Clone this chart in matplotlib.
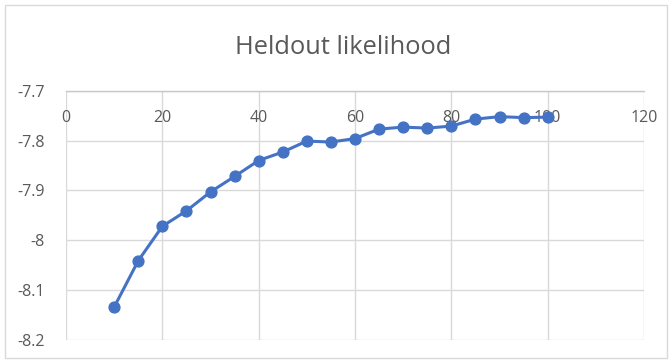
import numpy as np
import matplotlib.pyplot as plt
from matplotlib.patches import Rectangle

plt.rcParams['font.family'] = ['Open Sans', 'DejaVu Sans']

# number of topics vs. heldout log likelihood
topics = [10, 15, 20, 25, 30, 35, 40, 45, 50, 55, 60, 65, 70, 75, 80, 85, 90, 95, 100]
likelihood = [-8.134, -8.041, -7.972, -7.941, -7.903, -7.872, -7.840, -7.823, -7.801,
              -7.803, -7.796, -7.777, -7.773, -7.775, -7.771, -7.757, -7.752, -7.754, -7.753]

x_ticks = [0, 20, 40, 60, 80, 100, 120]
y_ticks = [-8.2, -8.1, -8.0, -7.9, -7.8, -7.7]
y_labels = ['-8.2', '-8.1', '-8', '-7.9', '-7.8', '-7.7']

text_col = '#595959'
grid_col = '#d9d9d9'

fig = plt.figure(figsize=(6.72, 3.61), dpi=100)
fig.patch.set_facecolor('white')

# chart border
fig.patches.append(Rectangle((5 / 672, 3 / 361), 662 / 672, 353 / 361,
                             transform=fig.transFigure, fill=False,
                             edgecolor=grid_col, linewidth=1.0))

ax = fig.add_axes([66 / 672, 1 - 340 / 361, 578 / 672, 249.3 / 361])
ax.plot(topics, likelihood, color='#4472C4', linewidth=2.2, marker='o',
        markersize=7.8, zorder=3, clip_on=False)

ax.set_xlim(0, 120)
ax.set_ylim(-8.2, -7.7)
ax.set_xticks(x_ticks)
ax.set_yticks(y_ticks)
ax.set_yticklabels(y_labels)

ax.grid(True, color=grid_col, linewidth=1.0)
ax.set_axisbelow(True)
for side in ['left', 'right', 'bottom']:
    ax.spines[side].set_visible(False)
ax.spines['top'].set_color('#c8c8c8')
ax.spines['top'].set_linewidth(1.0)

# x labels hang just under the top axis line
ax.tick_params(axis='x', top=False, bottom=False, labeltop=True, labelbottom=False,
               pad=-29, labelsize=11.5, labelcolor=text_col)
ax.tick_params(axis='y', left=False, pad=12, labelsize=11.5, labelcolor=text_col)

fig.text(0.51, 1 - 47 / 361, 'Heldout likelihood', ha='center', va='center',
         fontsize=18.3, color=text_col)

fig.savefig('out.png', dpi=100)
